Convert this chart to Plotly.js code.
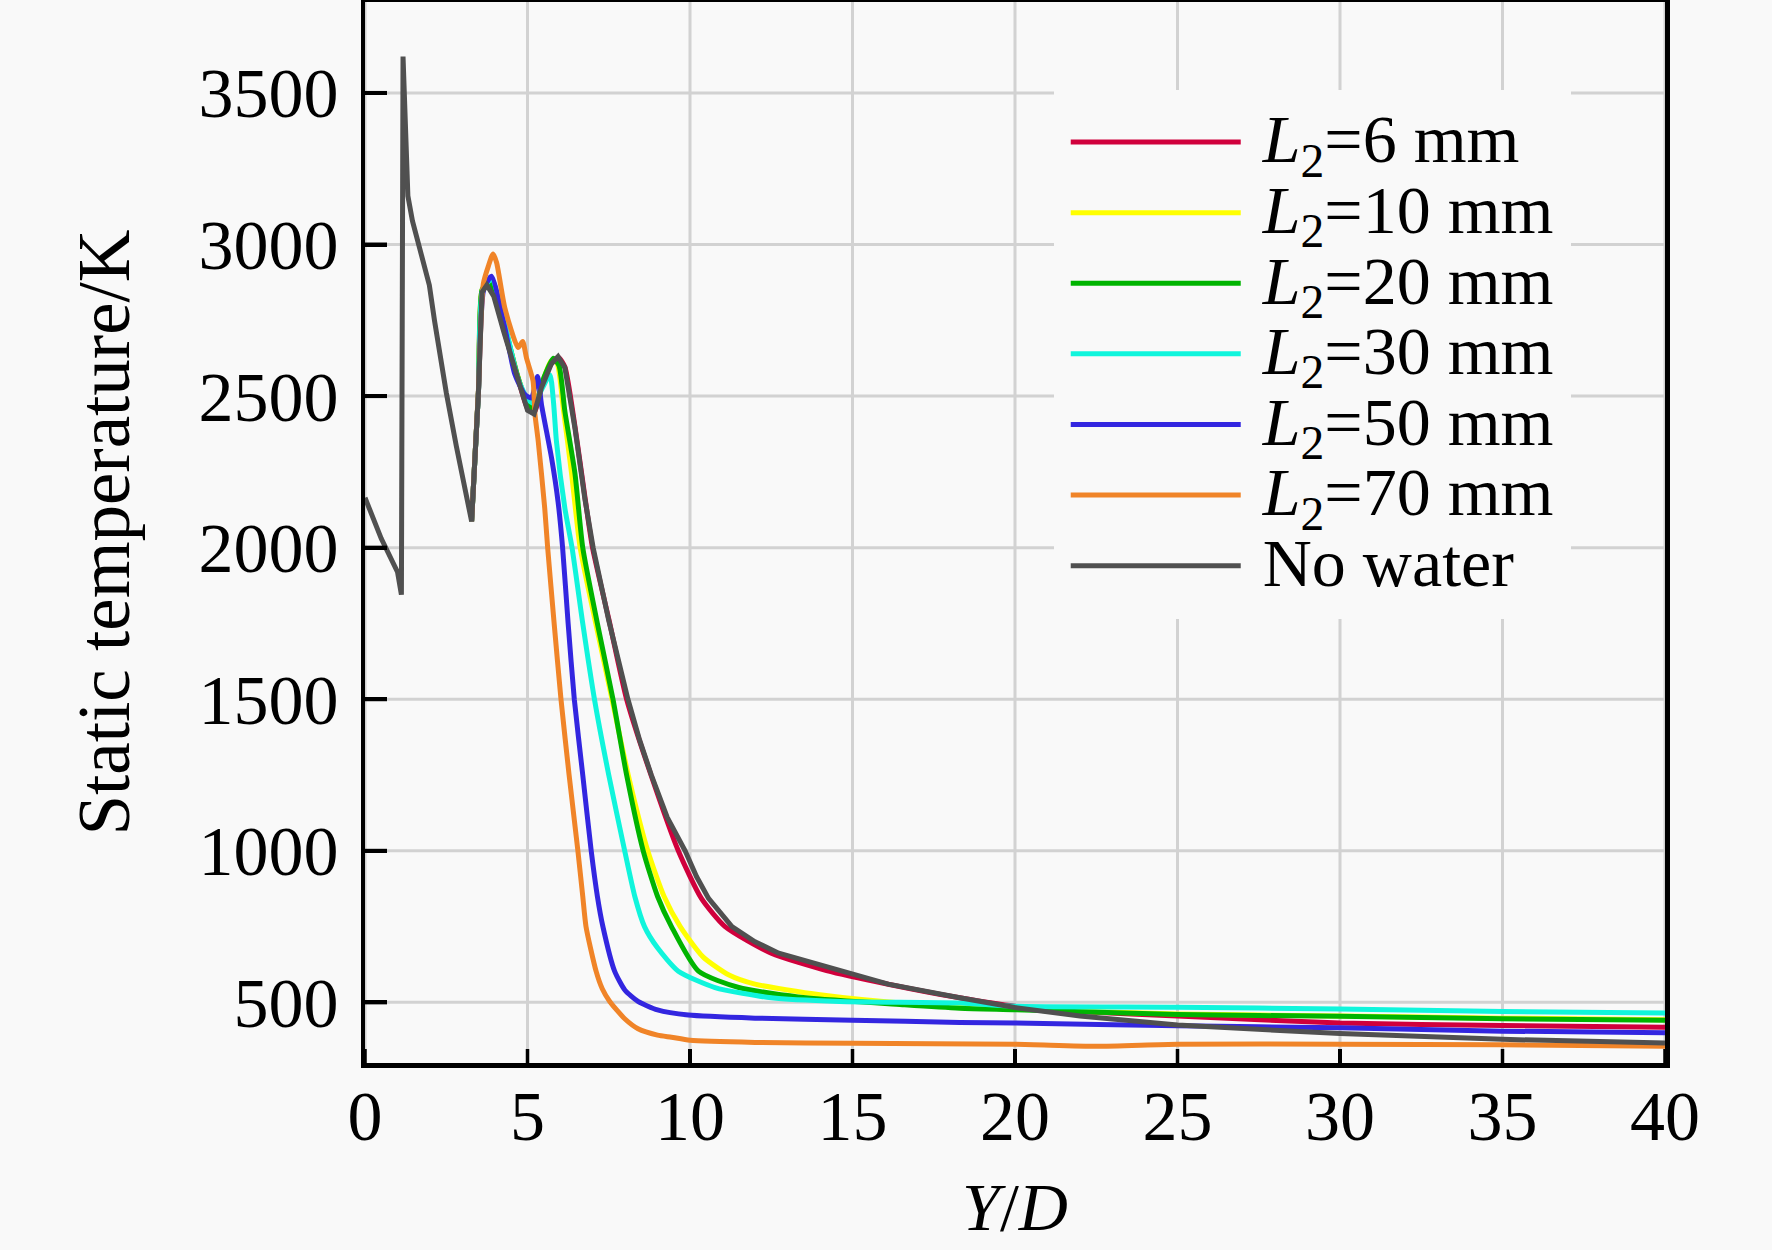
<!DOCTYPE html>
<html>
<head>
<meta charset="utf-8">
<script src="https://cdn.plot.ly/plotly-3.0.1.min.js"></script>
<style>html,body{margin:0;padding:0;background:#f9f9f9;}#chart{width:1772px;height:1250px;}</style>
</head>
<body>
<div id="chart"></div>
<script>
// ---- data ----
const seriesNames = ['<i>L</i><sub>2</sub>=6 mm', '<i>L</i><sub>2</sub>=10 mm', '<i>L</i><sub>2</sub>=20 mm',
                     '<i>L</i><sub>2</sub>=30 mm', '<i>L</i><sub>2</sub>=50 mm', '<i>L</i><sub>2</sub>=70 mm', 'No water'];
const seriesColors = ['#d0003c', '#ffff00', '#00b400', '#10f5dc', '#3326e0', '#f08428', '#505050'];

const xTicks = [0, 5, 10, 15, 20, 25, 30, 35, 40];
const yTicks = [500, 1000, 1500, 2000, 2500, 3000, 3500];

const x6 = [3.28, 3.49, 3.6, 3.75, 3.96, 4.27, 4.69, 5.0, 5.2, 5.45, 5.75, 5.95, 6.15, 6.46, 6.77, 7.0, 7.5, 8.05, 8.8, 9.64, 10.35, 11.08, 12.5, 14.2, 16.1, 18.3, 20, 22, 25, 30, 35, 40];
const y6 = [2087, 2512, 2842, 2866, 2840, 2720, 2565, 2460, 2445, 2535, 2610, 2628, 2596, 2400, 2165, 2000, 1765, 1500, 1250, 1000, 843, 750, 662, 605, 560, 515, 487, 470, 455, 432, 424, 418];

const x10 = [3.28, 3.49, 3.6, 3.8, 4.0, 4.3, 4.7, 5.0, 5.2, 5.45, 5.72, 5.9, 6.1, 6.35, 6.62, 7.1, 7.6, 8.1, 8.7, 9.2, 9.7, 10.4, 11.2, 12, 14, 16.6, 20, 25, 30, 35, 40];
const y10 = [2087, 2512, 2850, 2880, 2850, 2730, 2565, 2480, 2465, 2540, 2615, 2610, 2460, 2250, 2000, 1750, 1500, 1250, 1000, 850, 750, 650, 590, 560, 525, 497, 478, 462, 455, 448, 443];

const x20 = [3.28, 3.49, 3.6, 3.8, 4.0, 4.3, 4.7, 5.0, 5.2, 5.5, 5.79, 5.97, 6.15, 6.46, 6.7, 7.15, 7.63, 8.05, 8.56, 9.0, 9.43, 10.26, 11.5, 13.56, 16.6, 18.3, 20, 25, 30, 35, 40];
const y20 = [2087, 2512, 2850, 2875, 2845, 2730, 2565, 2475, 2460, 2560, 2625, 2600, 2450, 2245, 2000, 1750, 1500, 1250, 1000, 850, 750, 603, 549, 515, 492, 481, 476, 460, 454, 446, 441];

const x30 = [3.28, 3.49, 3.62, 3.9, 4.3, 4.7, 5.0, 5.2, 5.45, 5.69, 5.8, 5.89, 6.15, 6.37, 6.7, 7.06, 7.5, 7.99, 8.3, 8.6, 9.0, 9.64, 10.77, 12.5, 14.6, 18.3, 20, 25, 30, 35, 40];
const y30 = [2087, 2512, 2850, 2885, 2740, 2560, 2490, 2475, 2525, 2570, 2480, 2351, 2130, 2000, 1750, 1500, 1250, 1000, 850, 750, 680, 603, 549, 515, 503, 498, 487, 484, 478, 470, 465];

const x50 = [3.28, 3.49, 3.65, 3.89, 4.3, 4.61, 4.92, 5.12, 5.31, 5.43, 5.74, 5.94, 6.08, 6.25, 6.44, 6.7, 6.96, 7.15, 7.32, 7.68, 8.0, 8.4, 9.0, 9.95, 12, 15, 18.3, 20, 25, 30, 35, 40];
const y50 = [2087, 2512, 2850, 2895, 2726, 2572, 2505, 2494, 2565, 2472, 2296, 2152, 2000, 1750, 1500, 1250, 1000, 850, 750, 603, 540, 503, 475, 458, 448, 441, 434, 432, 423, 416, 405, 400];

const x70 = [3.28, 3.49, 3.64, 3.8, 3.94, 4.05, 4.3, 4.71, 4.85, 4.97, 5.17, 5.23, 5.33, 5.53, 5.62, 5.82, 6.03, 6.28, 6.55, 6.7, 6.8, 7.11, 7.3, 7.53, 8.0, 8.4, 9.0, 9.43, 10, 12, 15, 20, 22.5, 25, 30, 35, 40];
const y70 = [2087, 2520, 2870, 2930, 2969, 2940, 2792, 2660, 2680, 2625, 2550, 2439, 2351, 2130, 2000, 1750, 1500, 1250, 1000, 850, 750, 603, 545, 503, 445, 413, 392, 385, 375, 368, 365, 362, 355, 362, 362, 360, 355];

const xNoWater = [0, 0.5, 1.0, 1.12, 1.17, 1.25, 1.32, 1.46, 1.98, 2.14, 2.5, 2.81, 3.12, 3.28, 3.49, 3.6, 3.75, 3.96, 4.27, 4.69, 5.0, 5.2, 5.43, 5.73, 5.94, 6.15, 6.46, 6.77, 7.02, 7.5, 8.09, 8.45, 8.81, 9.3, 9.85, 10.2, 10.57, 11.29, 12.0, 12.73, 14.18, 16.1, 18.3, 20, 22, 25, 30, 35, 40];
const yNoWater = [2165, 2030, 1920, 1845, 3620, 3300, 3160, 3078, 2866, 2748, 2512, 2335, 2182, 2087, 2512, 2842, 2866, 2830, 2712, 2559, 2453, 2441, 2528, 2606, 2630, 2594, 2394, 2158, 2000, 1760, 1500, 1365, 1250, 1110, 1000, 915, 843, 750, 700, 662, 617, 560, 515, 483, 455, 425, 397, 378, 366];

const xs = [x6, x10, x20, x30, x50, x70, xNoWater];
const ys = [y6, y10, y20, y30, y50, y70, yNoWater];

// ---- styling ----
const FONT = 'Liberation Serif, Times New Roman, serif';
const W = 1772, H = 1250;
const M = {l: 365, r: 107, t: 2, b: 187};
const X_RANGE = [0, 40], Y_RANGE = [300, 3800];
const plotW = W - M.l - M.r, plotH = H - M.t - M.b;
const X_TICK_PX = 14, Y_TICK_PX = 22;   // inside tick lengths in pixels
const GRID = {color: '#d2d2d2', width: 3};

const traces = xs.map((x, i) => ({
  type: 'scatter', mode: 'lines', x: x, y: ys[i],
  name: '<span style="font-size:68px">\u00A0' + seriesNames[i] + '</span>',
  line: {color: seriesColors[i], width: 5, shape: i < 6 ? 'spline' : 'linear', smoothing: 0.6}
}));

// inside tick marks drawn as short segments at the tick values (pixel length converted to data units)
const yTickLenData = X_TICK_PX * (Y_RANGE[1] - Y_RANGE[0]) / plotH;
const xTickLenData = Y_TICK_PX * (X_RANGE[1] - X_RANGE[0]) / plotW;
const xTickSeg = {x: [], y: []};
xTicks.forEach(v => { xTickSeg.x.push(v, v, null); xTickSeg.y.push(Y_RANGE[0], Y_RANGE[0] + yTickLenData, null); });
const yTickSeg = {x: [], y: []};
yTicks.forEach(v => { yTickSeg.x.push(X_RANGE[0], X_RANGE[0] + xTickLenData, null); yTickSeg.y.push(v, v, null); });
traces.push({type: 'scatter', mode: 'lines', x: xTickSeg.x, y: xTickSeg.y, showlegend: false,
  hoverinfo: 'skip', cliponaxis: false, line: {color: '#000', width: 3.5}});
traces.push({type: 'scatter', mode: 'lines', x: yTickSeg.x, y: yTickSeg.y, showlegend: false,
  hoverinfo: 'skip', cliponaxis: false, line: {color: '#000', width: 4}});

// grid lines under the data, at the tick values
const gridShapes = []
  .concat(xTicks.map(v => ({type: 'line', layer: 'below', xref: 'x', yref: 'y domain',
    x0: v, x1: v, y0: 0, y1: 1, line: GRID})))
  .concat(yTicks.map(v => ({type: 'line', layer: 'below', xref: 'x domain', yref: 'y',
    x0: 0, x1: 1, y0: v, y1: v, line: GRID})));

const layout = {
  width: W, height: H,
  paper_bgcolor: '#f9f9f9', plot_bgcolor: '#f9f9f9',
  margin: M,
  font: {family: FONT, color: '#000'},
  showlegend: true,
  legend: {
    x: 0.5298, y: 0.9173, xanchor: 'left', yanchor: 'top',
    bgcolor: '#f9f9f9', bordercolor: '#f9f9f9', borderwidth: 12,
    font: {family: FONT, size: 52, color: '#000'},
    itemwidth: 170, traceorder: 'normal'
  },
  shapes: gridShapes,
  xaxis: {
    range: X_RANGE, tickmode: 'array', tickvals: xTicks, ticktext: xTicks.map(String),
    showline: true, linecolor: '#000', linewidth: 4.5, mirror: true,
    ticks: 'inside', tickcolor: '#000', ticklen: X_TICK_PX, tickwidth: 3.5,
    showgrid: false, zeroline: false,
    tickfont: {family: FONT, size: 70, color: '#000'}, ticklabelstandoff: -12,
    title: {text: '<i>Y</i>/<i>D</i>', font: {family: FONT, size: 68, color: '#000'}, standoff: 30}
  },
  yaxis: {
    range: Y_RANGE, tickmode: 'array', tickvals: yTicks, ticktext: yTicks.map(String),
    showline: true, linecolor: '#000', linewidth: 4.5, mirror: true,
    ticks: 'inside', tickcolor: '#000', ticklen: Y_TICK_PX, tickwidth: 4,
    showgrid: false, zeroline: false,
    tickfont: {family: FONT, size: 70, color: '#000'}, ticklabelstandoff: 8,
    title: {text: 'Static temperature/K', font: {family: FONT, size: 73, color: '#000'}, standoff: 46}
  }
};

Plotly.newPlot('chart', traces, layout, {displayModeBar: false, staticPlot: true});
</script>
</body>
</html>
